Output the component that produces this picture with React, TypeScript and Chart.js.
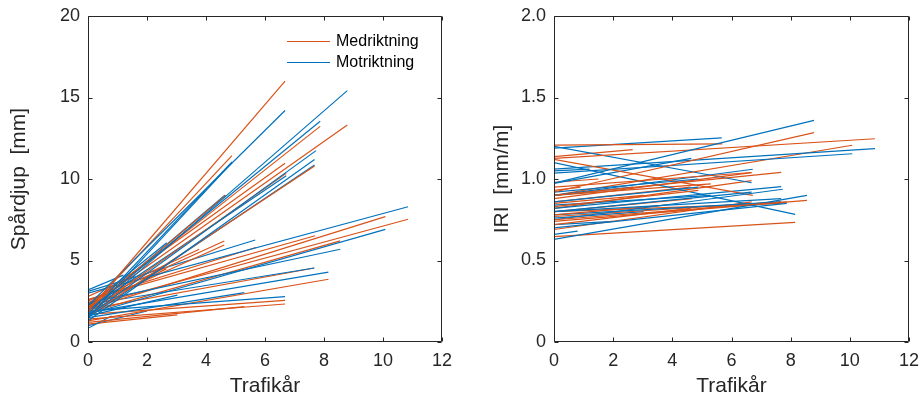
import { useEffect, useRef } from "react";
import { Chart, registerables } from "chart.js";

Chart.register(...registerables);

const MED_COLOR = "#D95319";
const MOT_COLOR = "#0072BD";
const AXIS_COLOR = "#262626";
const FONT = "'Liberation Sans', Arial, Helvetica, sans-serif";

// Medriktning: trafikår per sträcka, spårdjup (mm) och IRI (mm/m) vid start och slut
const medYears = [6.68, 4.88, 7.87, 8.79, 6.68, 6.72, 7.68, 4.67, 4.62, 4.62, 3.77, 5.69, 10.85, 10.08, 7.7, 8.55, 7.67, 8.15, 6.68, 6.68, 5.3, 3.03, 2.66, 1.5, 0.9];
const medRutStart = [1.9, 2.0, 2.0, 2.1, 2.3, 1.8, 1.6, 1.9, 2.4, 2.2, 2.5, 2.6, 2.2, 2.0, 2.6, 1.8, 2.0, 1.3, 1.7, 1.4, 1.2, 1.1, 2.0, 2.8, 2.2];
const medRutEnd = [16.0, 11.43, 13.23, 13.31, 10.96, 10.35, 10.8, 9.0, 6.2, 5.95, 5.69, 5.8, 7.53, 7.69, 6.52, 6.2, 4.54, 3.85, 2.55, 2.33, 2.17, 1.66, 4.5, 4.0, 3.4];
const medIriStart = [0.95, 0.83, 0.75, 0.92, 0.88, 1.12, 0.9, 0.8, 0.72, 0.86, 0.78, 1.208, 1.126, 0.9, 0.8, 0.74, 0.77, 0.646, 0.82, 0.69, 0.9, 0.85, 1.137, 0.98, 0.93];
const medIriEnd = [1.04, 0.93, 0.86, 1.284, 1.039, 0.9, 1.041, 0.88, 0.82, 0.95, 0.84, 1.215, 1.247, 1.207, 0.85, 0.869, 0.86, 0.734, 0.99, 0.86, 0.97, 0.9, 1.18, 1.0, 0.95];

// Motriktning
const motYears = [8.79, 6.68, 7.87, 4.88, 4.88, 7.73, 7.68, 7.68, 6.72, 10.85, 10.08, 8.55, 5.67, 2.67, 7.67, 8.15, 6.68, 5.3, 3.03, 4.64, 1.2, 0.8, 2.0];
const motRutStart = [1.6, 2.24, 1.9, 1.5, 1.7, 1.6, 1.3, 1.5, 2.0, 3.0, 1.7, 2.4, 3.1, 2.2, 2.3, 1.8, 1.9, 1.5, 1.6, 1.9, 3.2, 0.84, 1.0];
const motRutEnd = [15.42, 14.2, 13.54, 11.0, 11.05, 11.74, 11.2, 10.86, 10.2, 8.3, 6.91, 5.69, 6.26, 6.09, 4.54, 4.29, 2.78, 3.03, 2.88, 9.0, 4.1, 1.6, 1.9];
const motIriStart = [0.975, 0.8, 0.7, 0.86, 0.92, 0.75, 0.82, 0.8, 0.9, 1.06, 1.036, 0.63, 1.19, 0.9, 0.78, 1.1, 1.2, 0.84, 0.76, 0.973, 1.05, 0.66, 0.72];
const motIriEnd = [1.36, 0.92, 0.851, 0.95, 1.0, 0.937, 0.953, 0.88, 1.06, 1.186, 1.155, 0.9, 1.252, 0.95, 0.86, 0.783, 0.977, 0.9, 0.8, 1.127, 1.06, 0.68, 0.74];

const xTicks = { min: 0, max: 12, step: 2 };
const rutTicks = { min: 0, max: 20, step: 5 };
const iriTicks = { min: 0, max: 2, step: 0.5 };

const legendLabels = ["Medriktning", "Motriktning"];

function buildDatasets(
  medStart: number[],
  medEnd: number[],
  motStart: number[],
  motEnd: number[]
) {
  const sets: any[] = [];
  const n = Math.max(medYears.length, motYears.length);
  const line = (color: string, x1: number, y0: number, y1: number) => ({
    data: [
      { x: 0, y: y0 },
      { x: x1, y: y1 },
    ],
    borderColor: color,
    backgroundColor: color,
    borderWidth: 1.2,
    pointRadius: 0,
    showLine: true,
    fill: false,
  });
  for (let i = 0; i < n; i++) {
    if (i < motYears.length) sets.push(line(MOT_COLOR, motYears[i], motStart[i], motEnd[i]));
    if (i < medYears.length) sets.push(line(MED_COLOR, medYears[i], medStart[i], medEnd[i]));
  }
  return sets;
}

const TICK_LEN = 4;

// Box around the plot area with inward ticks on all four sides
const boxTicks = {
  id: "boxTicks",
  afterDatasetsDraw(chart: any) {
    const { ctx, chartArea, scales } = chart;
    const { left, right, top, bottom } = chartArea;
    const L = Math.round(left) + 0.5;
    const R = Math.round(right) - 0.5;
    const T = Math.round(top) + 0.5;
    const B = Math.round(bottom) - 0.5;
    ctx.save();
    ctx.strokeStyle = AXIS_COLOR;
    ctx.lineWidth = 1;
    ctx.beginPath();
    ctx.rect(L, T, R - L, B - T);
    scales.x.ticks.forEach((_t: any, i: number) => {
      const px = Math.round(scales.x.getPixelForTick(i)) + 0.5;
      ctx.moveTo(px, B);
      ctx.lineTo(px, B - TICK_LEN);
      ctx.moveTo(px, T);
      ctx.lineTo(px, T + TICK_LEN);
    });
    scales.y.ticks.forEach((_t: any, i: number) => {
      const py = Math.round(scales.y.getPixelForTick(i)) + 0.5;
      ctx.moveTo(L, py);
      ctx.lineTo(L + TICK_LEN, py);
      ctx.moveTo(R, py);
      ctx.lineTo(R - TICK_LEN, py);
    });
    ctx.stroke();
    ctx.restore();
  },
};

// Two-entry legend in the upper right corner of the plot area
const directionLegend = {
  id: "directionLegend",
  afterDraw(chart: any) {
    const { ctx, chartArea } = chart;
    const colors = [MED_COLOR, MOT_COLOR];
    const x0 = chartArea.right - 155;
    const x1 = chartArea.right - 112;
    const tx = chartArea.right - 106;
    const rows = [chartArea.top + 25, chartArea.top + 46];
    ctx.save();
    ctx.font = `16px ${FONT}`;
    ctx.textBaseline = "middle";
    ctx.textAlign = "left";
    rows.forEach((y: number, i: number) => {
      ctx.strokeStyle = colors[i];
      ctx.lineWidth = 1.2;
      ctx.beginPath();
      ctx.moveTo(x0, Math.round(y) + 0.5);
      ctx.lineTo(x1, Math.round(y) + 0.5);
      ctx.stroke();
      ctx.fillStyle = "#000";
      ctx.fillText(legendLabels[i], tx, y + 1);
    });
    ctx.restore();
  },
};

// Fixed axis thickness and no label overhang padding, so the plot box keeps its place
const fixAxis = (size: number) => (s: any) => {
  if (s.isHorizontal()) s.height = size;
  else s.width = size;
  s.paddingLeft = 0;
  s.paddingRight = 0;
  s.paddingTop = 0;
  s.paddingBottom = 0;
};

function makeConfig(kind: "rut" | "iri") {
  const isRut = kind === "rut";
  const yt = isRut ? rutTicks : iriTicks;
  const datasets = isRut
    ? buildDatasets(medRutStart, medRutEnd, motRutStart, motRutEnd)
    : buildDatasets(medIriStart, medIriEnd, motIriStart, motIriEnd);
  return {
    type: "scatter" as const,
    data: { datasets },
    plugins: isRut ? [boxTicks, directionLegend] : [boxTicks],
    options: {
      animation: false,
      responsive: false,
      devicePixelRatio: 1,
      layout: { padding: { left: 0, top: 16, right: isRut ? 18 : 11, bottom: 0 } },
      plugins: { legend: { display: false }, tooltip: { enabled: false } },
      scales: {
        x: {
          type: "linear",
          min: xTicks.min,
          max: xTicks.max,
          afterFit: fixAxis(59),
          grid: { display: false, drawTicks: false },
          border: { display: false },
          ticks: {
            stepSize: xTicks.step,
            padding: 8,
            color: AXIS_COLOR,
            maxRotation: 0,
            autoSkip: false,
            font: { family: FONT, size: 18 },
          },
          title: {
            display: true,
            text: "Trafikår",
            color: AXIS_COLOR,
            font: { family: FONT, size: 21 },
            padding: { top: 0, bottom: 2 },
          },
        },
        y: {
          type: "linear",
          min: yt.min,
          max: yt.max,
          afterFit: fixAxis(isRut ? 88 : 94),
          grid: { display: false, drawTicks: false },
          border: { display: false },
          ticks: {
            stepSize: yt.step,
            padding: 8,
            color: AXIS_COLOR,
            autoSkip: false,
            font: { family: FONT, size: 18 },
            callback: (v: any) => (isRut ? String(v) : v === 0 ? "0" : Number(v).toFixed(1)),
          },
          title: {
            display: true,
            text: isRut ? "Spårdjup  [mm]" : "IRI  [mm/m]",
            color: AXIS_COLOR,
            font: { family: FONT, size: 21 },
            padding: { top: isRut ? 7 : 30, bottom: 0 },
          },
        },
      },
    },
  };
}

function Panel({ kind, left }: { kind: "rut" | "iri"; left: number }) {
  const ref = useRef<HTMLCanvasElement | null>(null);
  useEffect(() => {
    if (!ref.current) return;
    const chart = new Chart(ref.current, makeConfig(kind) as any);
    return () => chart.destroy();
  }, [kind]);
  return (
    <canvas
      ref={ref}
      width={460}
      height={401}
      style={{ position: "absolute", left, top: 0, width: 460, height: 401 }}
    />
  );
}

export default function App() {
  return (
    <div
      style={{
        position: "fixed",
        left: 0,
        top: 0,
        width: 920,
        height: 401,
        background: "#fff",
        overflow: "hidden",
      }}
    >
      <Panel kind="rut" left={0} />
      <Panel kind="iri" left={460} />
    </div>
  );
}
